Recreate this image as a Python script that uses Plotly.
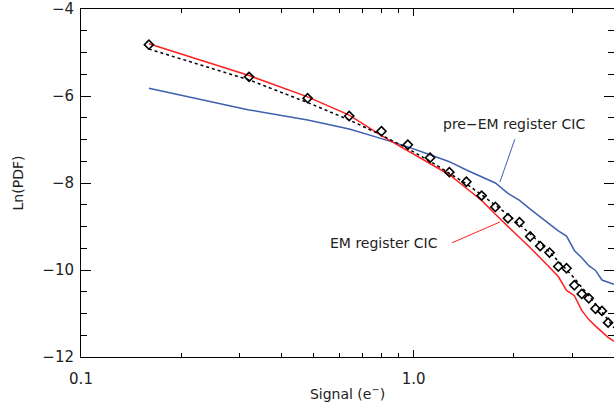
import plotly.graph_objects as go

# Shared signal grid (e-)
signal = [0.16, 0.32, 0.48, 0.64, 0.80, 0.96, 1.12, 1.28, 1.44, 1.60, 1.76, 1.92,
          2.08, 2.24, 2.40, 2.56, 2.72, 2.88, 3.04, 3.20, 3.36, 3.52, 3.68, 3.84]

# Measured Ln(PDF) (diamonds)
measured = [-4.82, -5.56, -6.05, -6.46, -6.81, -7.12, -7.42, -7.75, -7.97, -8.29,
            -8.55, -8.81, -8.90, -9.23, -9.45, -9.60, -9.92, -9.96, -10.35, -10.55,
            -10.65, -10.89, -10.94, -11.21]

# Fit (dotted)
fit_x = signal + [4.0]
fit_y = [-4.92, -5.63, -6.15, -6.55, -6.90, -7.21, -7.50, -7.77, -8.02, -8.27,
         -8.50, -8.73, -8.95, -9.17, -9.38, -9.59, -9.79, -9.99, -10.19, -10.39,
         -10.58, -10.77, -10.96, -11.15, -11.33]

# EM register CIC (red)
em_x = signal + [4.0]
em_y = [-4.80, -5.53, -6.02, -6.44, -6.91, -7.26, -7.55, -7.81, -8.12, -8.40,
        -8.72, -8.99, -9.25, -9.49, -9.72, -9.93, -10.15, -10.47, -10.59, -10.93,
        -11.14, -11.29, -11.42, -11.55, -11.64]

# pre-EM register CIC (blue)
pre_x = signal + [4.0]
pre_y = [-5.82, -6.32, -6.55, -6.76, -6.98, -7.17, -7.35, -7.51, -7.70, -7.86,
         -8.00, -8.24, -8.40, -8.60, -8.78, -8.96, -9.10, -9.22, -9.55, -9.72,
         -9.90, -10.01, -10.23, -10.28, -10.33]

x_major = [0.1, 1.0]
x_major_text = ["0.1", "1.0"]
x_minor = [0.2, 0.3, 0.4, 0.5, 0.6, 0.7, 0.8, 0.9, 2, 3, 4]

FONT = "DejaVu Sans"
fig = go.Figure()
fig.add_trace(go.Scatter(x=pre_x, y=pre_y, mode="lines",
                         line=dict(color="#3f5fb0", width=1.5), showlegend=False))
fig.add_trace(go.Scatter(x=em_x, y=em_y, mode="lines",
                         line=dict(color="#ff2020", width=1.5), showlegend=False))
fig.add_trace(go.Scatter(x=fit_x, y=fit_y, mode="lines",
                         line=dict(color="black", width=1.5, dash="dot"), showlegend=False))
fig.add_trace(go.Scatter(x=signal, y=measured, mode="markers",
                         marker=dict(symbol="diamond-open", size=7, color="black",
                                     line=dict(width=1.6, color="black")),
                         showlegend=False))

axis_common = dict(showline=True, linecolor="black", linewidth=1, mirror="ticks",
                   ticks="inside", tickcolor="black", showgrid=False, zeroline=False,
                   tickfont=dict(family=FONT, size=15, color="#222"))

fig.update_xaxes(type="log", range=[-1, 0.60206], tickmode="array",
                 tickvals=x_major, ticktext=x_major_text, ticklen=7,
                 ticklabelstandoff=8,
                 minor=dict(tickmode="array", tickvals=x_minor, ticks="inside",
                            ticklen=4, tickcolor="black"),
                 title=dict(text="Signal (e<sup>−</sup>)", standoff=2,
                            font=dict(family=FONT, size=14, color="#222")),
                 **axis_common)
fig.update_yaxes(range=[-12, -4], dtick=2, ticklen=10, ticklabelstandoff=3,
                 minor=dict(dtick=0.5, ticks="inside", ticklen=6, tickcolor="black"),
                 title=dict(text="Ln(PDF)", standoff=15,
                            font=dict(family=FONT, size=14, color="#222")),
                 **axis_common)

fig.add_annotation(text="pre−EM register CIC", xref="paper", yref="paper",
                   x=0.812, y=0.670, xanchor="center", yanchor="middle",
                   showarrow=False, font=dict(family=FONT, size=14, color="#222"))
fig.add_annotation(text="EM register CIC", xref="paper", yref="paper",
                   x=0.568, y=0.328, xanchor="center", yanchor="middle",
                   showarrow=False, font=dict(family=FONT, size=14, color="#222"))
fig.add_shape(type="line", xref="paper", yref="paper", x0=0.814, y0=0.626,
              x1=0.786, y1=0.503, line=dict(color="#3f5fb0", width=1))
fig.add_shape(type="line", xref="paper", yref="paper", x0=0.696, y0=0.328,
              x1=0.786, y1=0.388, line=dict(color="#ff2020", width=1))

fig.update_layout(width=614, height=407, margin=dict(l=81, r=0, t=9, b=50,
                                                     autoexpand=False),
                  paper_bgcolor="white", plot_bgcolor="white")
fig.write_html("out.html", config={"displayModeBar": False},
               post_script="document.body.style.margin='0';document.body.style.overflow='hidden';")
